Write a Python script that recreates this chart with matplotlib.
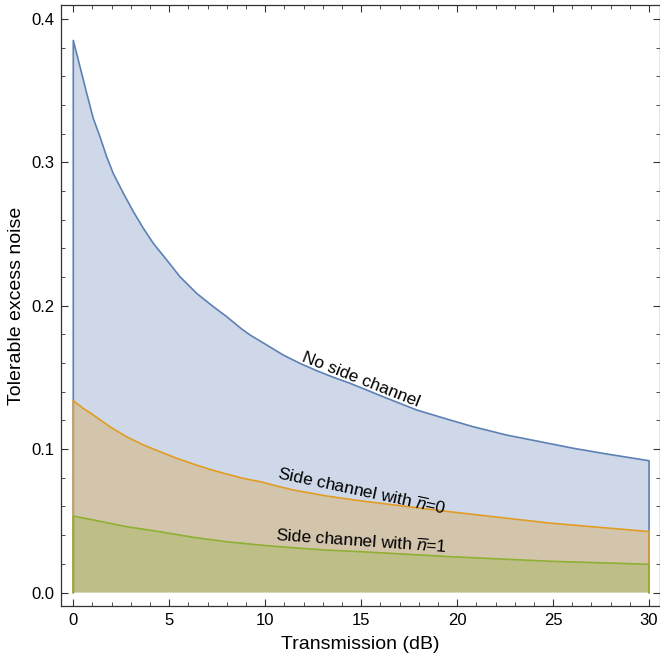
import matplotlib
matplotlib.use('Agg')
import matplotlib.pyplot as plt
from matplotlib.ticker import MultipleLocator
import numpy as np

plt.rcParams['font.family'] = ['Liberation Sans', 'DejaVu Sans']
plt.rcParams['mathtext.fontset'] = 'custom'
plt.rcParams['mathtext.it'] = 'Liberation Sans:italic'
plt.rcParams['mathtext.rm'] = 'Liberation Sans'

# values
x_none = [0, 0.35, 0.70, 1.04, 1.39, 1.74, 2.08, 2.61, 3.13, 3.65, 4.17,
          4.87, 5.56, 6.43, 7.30, 8.0, 8.77, 9.21, 10.08, 10.94, 11.81,
          12.68, 13.55, 14.42, 15.29, 16.15, 17.02, 17.89, 18.76, 19.63,
          20.84, 22.58, 24.32, 26.05, 27.8, 30]
y_none = [0.385, 0.3667, 0.3481, 0.3307, 0.3179, 0.3039, 0.2923, 0.2784,
          0.2656, 0.2540, 0.2435, 0.2319, 0.2202, 0.2086, 0.1993, 0.1923,
          0.1838, 0.1796, 0.1726, 0.1656, 0.1598, 0.1547, 0.1501, 0.1459,
          0.1412, 0.1365, 0.1319, 0.1273, 0.1238, 0.1203, 0.1156, 0.1098,
          0.1052, 0.1006, 0.0966, 0.0919]

x_n0 = [0, 0.52, 1.04, 1.91, 2.78, 3.65, 4.52, 5.39, 6.25, 7.12, 7.99,
        8.86, 9.73, 10.6, 11.46, 13.2, 14.94, 19.63, 24.84, 30]
y_n0 = [0.1338, 0.1284, 0.1238, 0.1156, 0.1086, 0.1029, 0.0982, 0.0936,
        0.0896, 0.0859, 0.0826, 0.0796, 0.0773, 0.0743, 0.0715, 0.0673,
        0.0640, 0.0563, 0.0484, 0.0425]

x_n1 = [0, 1.04, 2.78, 4.52, 6.25, 7.99, 9.73, 11.46, 13.2, 14.94, 19.63,
        24.84, 30]
y_n1 = [0.0533, 0.0506, 0.0459, 0.0424, 0.0385, 0.0354, 0.0331, 0.0312,
        0.0296, 0.0285, 0.0250, 0.0218, 0.0197]

labels = ['No side channel', r'Side channel with $\overline{n}$=0',
          r'Side channel with $\overline{n}$=1']
colors = ['#5e81b5', '#e19c24', '#8fb032']

fig = plt.figure(figsize=(6.6, 6.57), dpi=100)
ax = fig.add_axes([61/660, 51/657, 599/660, 601/657])

for xs, ys, c in zip([x_none, x_n0, x_n1], [y_none, y_n0, y_n1], colors):
    px = np.r_[xs[0], xs, xs[-1]]
    py = np.r_[0, ys, 0]
    ax.fill(px, py, facecolor=c, alpha=0.3, edgecolor='none')
    ax.plot(px, py, color=c, lw=1.2)

ax.text(15.0, 0.1485, labels[0], rotation=-21.5, ha='center', va='center',
        rotation_mode='anchor', fontsize=12.5)
ax.text(15.0, 0.0705, labels[1], rotation=-12, ha='center', va='center',
        rotation_mode='anchor', fontsize=12.5)
ax.text(15.0, 0.0357, labels[2], rotation=-4, ha='center', va='center',
        rotation_mode='anchor', fontsize=12.5)

ax.set_xlim(-0.64, 30.57)
ax.set_ylim(-0.0094, 0.4097)
ax.xaxis.set_major_locator(MultipleLocator(5))
ax.xaxis.set_minor_locator(MultipleLocator(1))
ax.yaxis.set_major_locator(MultipleLocator(0.1))
ax.yaxis.set_minor_locator(MultipleLocator(0.02))
ax.yaxis.set_major_formatter(plt.FuncFormatter(lambda v, p: '%.1f' % v))
ax.tick_params(which='both', direction='in', top=True, right=True,
               labelsize=12, colors='#333333', labelcolor='black')
ax.tick_params(which='major', length=5, width=0.8, pad=5)
ax.tick_params(which='minor', length=3, width=0.6)
for s in ax.spines.values():
    s.set_color('#333333')
    s.set_linewidth(0.9)

ax.set_xlabel('Transmission (dB)', fontsize=14, labelpad=6)
ax.set_ylabel('Tolerable excess noise', fontsize=14, labelpad=4)

fig.savefig('out.png', dpi=100)
